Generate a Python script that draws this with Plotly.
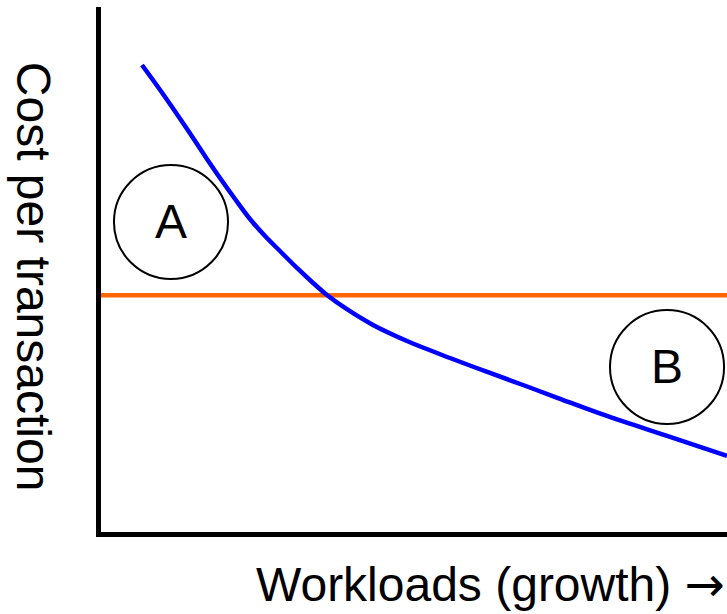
import plotly.graph_objects as go

# Workload (x, arbitrary units 0-10) and cost per transaction (y, arbitrary units 0-10)
workload = [0.655, 0.990, 1.342, 1.661, 1.901, 2.141, 2.380, 2.620, 2.859, 3.131, 3.371,
            3.610, 3.898, 4.345, 4.888, 5.575, 6.214, 6.741, 7.300, 8.083, 9.042, 10.0]
cost_scaling = [8.895, 8.343, 7.733, 7.162, 6.743, 6.343, 5.962, 5.638, 5.352, 5.029, 4.762,
                4.514, 4.267, 3.943, 3.638, 3.314, 3.029, 2.800, 2.552, 2.210, 1.829, 1.448]
flat_workload = [0.0, 10.0]
flat_cost = [4.51, 4.51]

# Region markers
region_labels = ["A", "B"]
region_x = [1.118, 9.042]
region_y = [5.905, 3.143]
region_rx = 0.911
region_ry = 1.086

FONT = "Liberation Sans, Arial, Helvetica, sans-serif"

fig = go.Figure()
fig.add_trace(go.Scatter(x=flat_workload, y=flat_cost, mode="lines",
                         line=dict(color="#FF6600", width=4.5), hoverinfo="skip"))
fig.add_trace(go.Scatter(x=workload, y=cost_scaling, mode="lines",
                         line=dict(color="#0000FF", width=4.5, shape="spline", smoothing=1.0),
                         hoverinfo="skip"))

for lab, cx, cy in zip(region_labels, region_x, region_y):
    fig.add_shape(type="circle", xref="x", yref="y",
                  x0=cx - region_rx, x1=cx + region_rx,
                  y0=cy - region_ry, y1=cy + region_ry,
                  line=dict(color="black", width=2), layer="above")
    fig.add_annotation(x=cx, y=cy, xref="x", yref="y", text=lab, showarrow=False,
                       font=dict(family=FONT, size=48, color="black"),
                       xanchor="center", yanchor="middle")

fig.add_annotation(x=-0.1086, y=0.486, xref="paper", yref="paper",
                   text="Cost per transaction", textangle=90, showarrow=False,
                   font=dict(family=FONT, size=48, color="black"),
                   xanchor="center", yanchor="middle")
fig.add_annotation(x=0.622, y=-0.099, xref="paper", yref="paper",
                   text="Workloads (growth) <span style=\"font-family:DejaVu Sans\">\u2192</span>",
                   showarrow=False, borderpad=0,
                   font=dict(family=FONT, size=48, color="black"),
                   xanchor="center", yanchor="middle")

fig.update_layout(
    width=727, height=614,
    margin=dict(l=101, r=0, t=7, b=82),
    paper_bgcolor="white", plot_bgcolor="white",
    showlegend=False,
    xaxis=dict(range=[0, 10], showgrid=False, zeroline=False, showticklabels=False,
               ticks="", showline=True, linecolor="black", linewidth=5),
    yaxis=dict(range=[0, 10], showgrid=False, zeroline=False, showticklabels=False,
               ticks="", showline=True, linecolor="black", linewidth=5),
)

fig.write_html("out.html", config={"displayModeBar": False},
               post_script="document.body.style.margin='0';document.body.style.overflow='hidden';")
